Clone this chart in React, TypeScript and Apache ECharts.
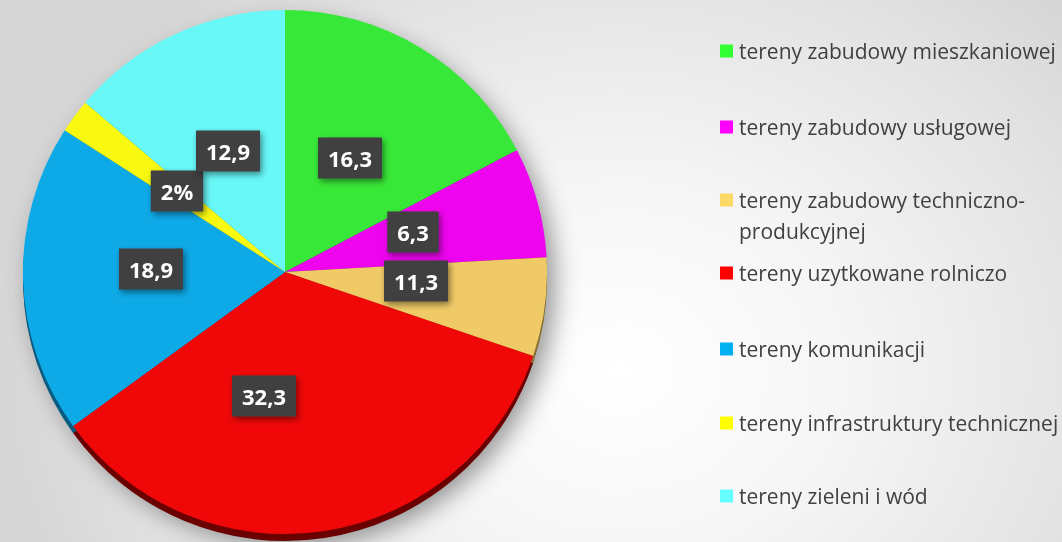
import React, { useEffect, useRef } from "react";
import * as echarts from "echarts";

const CATEGORIES = [
  "tereny zabudowy mieszkaniowej",
  "tereny zabudowy usługowej",
  "tereny zabudowy techniczno-produkcyjnej",
  "tereny uzytkowane rolniczo",
  "tereny komunikacji",
  "tereny infrastruktury technicznej",
  "tereny zieleni i wód",
];
// slice sizes as drawn in the picture (percent of the circle)
const SLICE_VALUES = [17.3, 6.8, 6.1, 34.8, 19.1, 2.1, 13.8];
// data labels as printed on the chart
const LABEL_TEXTS = ["16,3", "6,3", "11,3", "32,3", "18,9", "2%", "12,9"];
const LEGEND_TEXTS = [
  "tereny zabudowy mieszkaniowej",
  "tereny zabudowy usługowej",
  "tereny zabudowy techniczno-\nprodukcyjnej",
  "tereny uzytkowane rolniczo",
  "tereny komunikacji",
  "tereny infrastruktury technicznej",
  "tereny zieleni i wód",
];

const PIE_COLORS = ["#38e838", "#ee04ee", "#f0ca66", "#f00808", "#0eaae8", "#f8f810", "#68f8f8"];
const RIM_COLORS = ["#1c7a1c", "#7a027a", "#8a7030", "#6a0000", "#075a80", "#8a8a08", "#308888"];
const LEGEND_COLORS = ["#33ff33", "#ff00ff", "#ffd966", "#ff0000", "#00b0f0", "#ffff00", "#66ffff"];

const LABEL_POS: [number, number][] = [
  [350, 158],
  [413, 232],
  [416, 281],
  [264, 396],
  [151, 269],
  [177, 191],
  [228, 151],
];
const LEGEND_CENTERS = [51, 127, 200, 273, 349, 423, 496];

const CX = 285;
const CY = 272;
const R = 262;
const LINE_H = 31;

export default function App() {
  const ref = useRef<HTMLDivElement>(null);
  useEffect(() => {
    const chart = echarts.init(ref.current!, null, { renderer: "svg" });
    const legends = CATEGORIES.map((name, i) => {
      const multi = LEGEND_TEXTS[i].includes("\n");
      // a leading empty line keeps the first text line level with the icon
      const text = multi ? "\n" + LEGEND_TEXTS[i] : LEGEND_TEXTS[i];
      const half = multi ? (LINE_H * 3) / 2 : LINE_H / 2;
      return {
        orient: "vertical",
        left: 720,
        top: LEGEND_CENTERS[i] - half,
        padding: 0,
        itemWidth: 13,
        itemHeight: 13,
        itemGap: 0,
        icon: "rect",
        selectedMode: false,
        data: [{ name, itemStyle: { color: LEGEND_COLORS[i] } }],
        formatter: () => text,
        textStyle: {
          fontFamily: "Open Sans",
          fontSize: 21,
          color: "#404040",
          lineHeight: LINE_H,
          padding: [0, 0, 0, 1],
        },
      };
    });
    const option = {
      animation: false,
      backgroundColor: "transparent",
      legend: legends,
      series: [
        {
          type: "pie",
          name: "shadow",
          silent: true,
          z: 1,
          center: [CX, CY + 6],
          radius: R,
          label: { show: false },
          labelLine: { show: false },
          legendHoverLink: false,
          data: [
            {
              value: 1,
              name: "_shadow",
              itemStyle: {
                color: "#777",
                shadowBlur: 24,
                shadowColor: "rgba(0,0,0,0.4)",
                shadowOffsetX: 8,
                shadowOffsetY: 6,
              },
            },
          ],
        },
        {
          type: "pie",
          name: "rim",
          silent: true,
          z: 2,
          center: [CX, CY + 7],
          radius: R,
          startAngle: 90,
          clockwise: true,
          label: { show: false },
          labelLine: { show: false },
          itemStyle: { borderWidth: 0 },
          data: CATEGORIES.map((name, i) => ({
            name,
            value: SLICE_VALUES[i],
            itemStyle: { color: RIM_COLORS[i] },
          })),
        },
        {
          type: "pie",
          name: "main",
          z: 3,
          center: [CX, CY],
          radius: R,
          startAngle: 90,
          clockwise: true,
          avoidLabelOverlap: false,
          itemStyle: { borderWidth: 0 },
          labelLine: { show: false },
          label: {
            show: true,
            position: "inside",
            formatter: (p: any) => LABEL_TEXTS[p.dataIndex],
            color: "#ffffff",
            fontFamily: "Open Sans",
            fontWeight: "bold",
            fontSize: 22,
            lineHeight: 26,
            backgroundColor: "#3f3f3f",
            padding: [8, 10, 7, 10],
            shadowBlur: 6,
            shadowColor: "rgba(0,0,0,0.45)",
            shadowOffsetX: 2,
            shadowOffsetY: 3,
          },
          labelLayout: (p: any) => ({
            x: LABEL_POS[p.dataIndex][0],
            y: LABEL_POS[p.dataIndex][1],
            align: "center",
            verticalAlign: "middle",
          }),
          data: CATEGORIES.map((name, i) => ({
            name,
            value: SLICE_VALUES[i],
            itemStyle: { color: PIE_COLORS[i] },
          })),
        },
      ],
    };
    chart.setOption(option as any);
    return () => chart.dispose();
  }, []);
  return (
    <div
      style={{
        position: "fixed",
        left: 0,
        top: 0,
        width: 1062,
        height: 542,
        background:
          "radial-gradient(ellipse 620px 520px at 620px 370px, #ffffff 0%, #f6f6f6 35%, #e4e4e4 75%, #d6d6d6 100%)",
      }}
    >
      <div ref={ref} style={{ width: 1062, height: 542 }} />
    </div>
  );
}
